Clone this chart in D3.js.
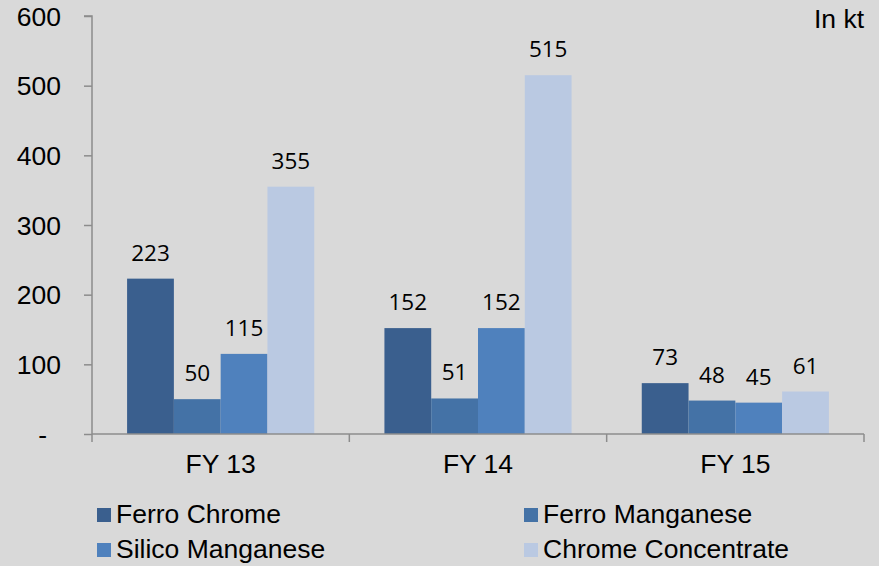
<!DOCTYPE html>
<html>
<head>
<meta charset="utf-8">
<script src="https://cdn.jsdelivr.net/npm/d3@7"></script>
<style>
html,body{margin:0;padding:0;background:#d9d9d9;}
svg{display:block;}
</style>
</head>
<body>
<script>
const categories = ["FY 13", "FY 14", "FY 15"];
const seriesNames = ["Ferro Chrome", "Ferro Manganese", "Silico Manganese", "Chrome Concentrate"];
const ferroChrome = [223, 152, 73];
const ferroManganese = [50, 51, 48];
const silicoManganese = [115, 152, 45];
const chromeConcentrate = [355, 515, 61];
const yTicks = [0, 100, 200, 300, 400, 500, 600];
const colors = ["#3a5f8e", "#4472a6", "#4f81bd", "#bac9e2"];

const seriesValues = [ferroChrome, ferroManganese, silicoManganese, chromeConcentrate];

const W = 879, H = 566;
const svg = d3.select("body").append("svg").attr("width", W).attr("height", H);
svg.append("rect").attr("width", W).attr("height", H).attr("fill", "#d9d9d9");

const x0 = 92, x1 = 864, yBottom = 434, yTop = 16;
const x = d3.scaleBand().domain(categories).range([x0, x1]).paddingInner(0).paddingOuter(0);
const y = d3.scaleLinear().domain([0, 600]).range([yBottom, yTop]);

const bw = x.bandwidth() / 5.5;
const inner = d3.scaleBand().domain(seriesNames).range([0, bw * 4]);
const groupOffset = bw * 0.75;

const axisColor = "#8c8c8c";
const labelFont = "'Liberation Sans', Arial, sans-serif";
const dataFont = "'Open Sans', sans-serif";
const fs = 26.5;

// bars
seriesNames.forEach((s, si) => {
  svg.append("g").selectAll("rect").data(categories).join("rect")
    .attr("x", c => x(c) + groupOffset + inner(s))
    .attr("y", (c, i) => y(seriesValues[si][i]))
    .attr("width", inner.bandwidth())
    .attr("height", (c, i) => y(0) - y(seriesValues[si][i]))
    .attr("fill", colors[si]);
  svg.append("g").selectAll("text").data(categories).join("text")
    .attr("x", c => x(c) + groupOffset + inner(s) + inner.bandwidth() / 2)
    .attr("y", (c, i) => y(seriesValues[si][i]) - 18)
    .attr("text-anchor", "middle")
    .attr("font-family", dataFont)
    .attr("font-size", 22.5)
    .attr("fill", "#000")
    .text((c, i) => seriesValues[si][i]);
});

// y axis
const yAxis = d3.axisLeft(y).tickValues(yTicks).tickSize(8).tickPadding(23)
  .tickFormat(d => d === 0 ? "-" : d);
const gy = svg.append("g").attr("transform", `translate(${x0},0)`).call(yAxis);
gy.select(".domain").attr("stroke", axisColor).attr("stroke-width", 1.5).attr("d", `M-8,${yTop}H0V${yBottom}`);
gy.selectAll(".tick line").attr("stroke", axisColor).attr("stroke-width", 1.5);
gy.selectAll(".tick text").attr("font-family", labelFont).attr("font-size", fs).attr("fill", "#000")
  .attr("dy", "0.35em");
gy.selectAll(".tick text").filter(d => d === 0).attr("x", -45);

// x axis
const gx = svg.append("g").attr("transform", `translate(0,${yBottom})`);
gx.append("line").attr("x1", x0).attr("x2", x1).attr("y1", 0).attr("y2", 0)
  .attr("stroke", axisColor).attr("stroke-width", 1.5);
const bounds = categories.map(c => x(c)).concat([x1]);
gx.selectAll("line.tk").data(bounds).join("line").attr("class", "tk")
  .attr("x1", d => d).attr("x2", d => d).attr("y1", 0).attr("y2", 8)
  .attr("stroke", axisColor).attr("stroke-width", 1.5);
gx.selectAll("text").data(categories).join("text")
  .attr("x", c => x(c) + x.bandwidth() / 2)
  .attr("y", 39)
  .attr("text-anchor", "middle")
  .attr("font-family", labelFont).attr("font-size", fs).attr("fill", "#000")
  .text(c => c);

// unit
svg.append("text").attr("x", 864).attr("y", 28).attr("text-anchor", "end")
  .attr("font-family", labelFont).attr("font-size", fs).attr("fill", "#000").text("In kt");

// legend
const legPos = [[97, 508], [524, 508], [97, 543], [524, 543]];
const leg = svg.append("g");
seriesNames.forEach((s, i) => {
  const [lx, ly] = legPos[i];
  leg.append("rect").attr("x", lx).attr("y", ly).attr("width", 14).attr("height", 14).attr("fill", colors[i]);
  leg.append("text").attr("x", lx + 19).attr("y", ly + 15)
    .attr("font-family", labelFont).attr("font-size", fs).attr("fill", "#000").text(s);
});
</script>
</body>
</html>
